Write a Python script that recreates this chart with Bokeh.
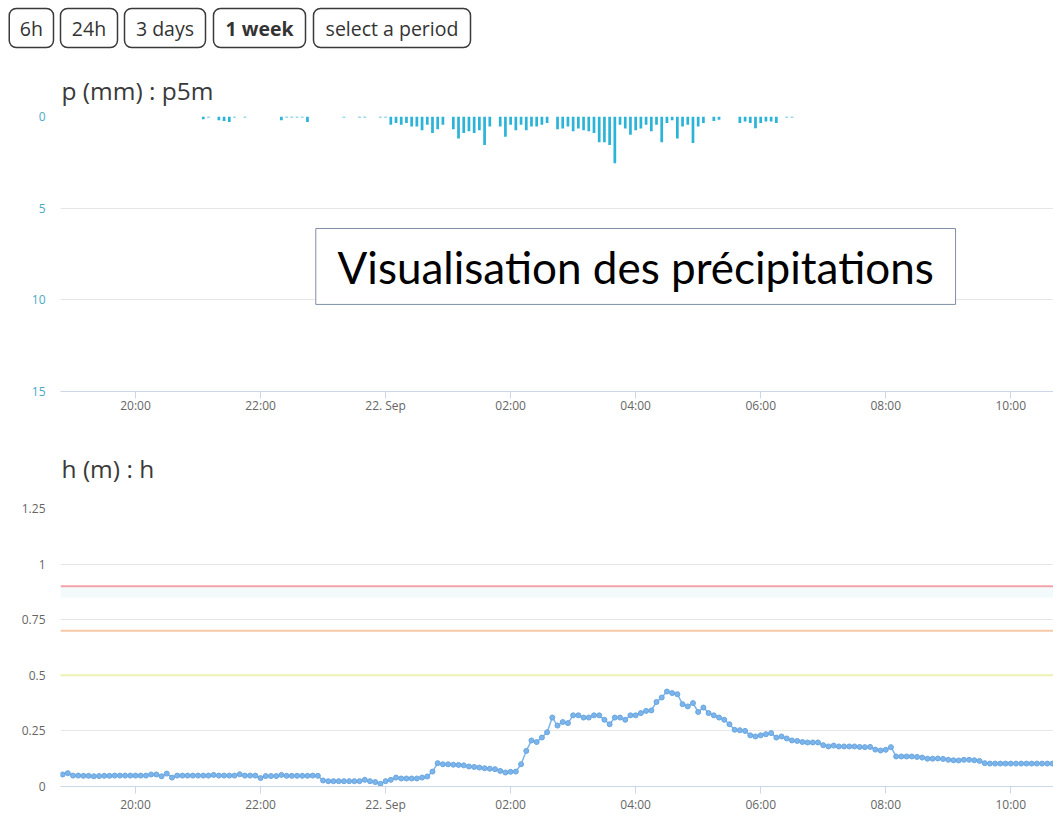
import pandas as pd
from bokeh.plotting import figure
from bokeh.models import (Range1d, FixedTicker, CustomJSTickFormatter, Span,
                          BoxAnnotation, Label, ColumnDataSource)
from bokeh.layouts import column, row
from bokeh.embed import file_html
from bokeh.resources import INLINE
from bokeh.core.properties import value

# ---------------- data ----------------
buttons = ["6h", "24h", "3 days", "1 week", "select a period"]
active_button = "1 week"

p_title = "p (mm) : p5m"
h_title = "h (m) : h"
overlay_text = "Visualisation des précipitations"

p_start = "2023-09-21 21:00"          # 5-minute precipitation, mm
p5m_mm = [
    0, 0.15, 0.05, 0, 0.2, 0.25, 0.3, 0.05, 0, 0.05, 0, 0,            # 21h
    0, 0, 0, 0, 0.2, 0.05, 0.05, 0.05, 0.05, 0.3, 0, 0,               # 22h
    0, 0, 0, 0, 0.05, 0, 0, 0.05, 0.05, 0, 0, 0.05,                   # 23h
    0.05, 0.45, 0.35, 0.45, 0.35, 0.55, 0.55, 0.75, 0.45, 0.9, 0.7, 0.45,  # 00h
    0, 0.7, 1.2, 0.9, 0.8, 0.9, 0.75, 1.55, 0.55, 0, 0.55, 1.1,       # 01h
    0.45, 0.75, 0.45, 0.75, 0.55, 0.55, 0.45, 0.35, 0, 0.7, 0.65, 0.55,  # 02h
    0.8, 0.65, 0.75, 0.8, 0.9, 1.4, 1.4, 1.55, 2.55, 0.45, 0.65, 1.0,  # 03h
    0.75, 0.65, 0.45, 0.8, 0.45, 1.4, 0.35, 0.2, 1.2, 0.55, 0.45, 1.45,  # 04h
    0.55, 0.35, 0, 0.25, 0.18, 0, 0, 0, 0.36, 0.27, 0.36, 0.64,       # 05h
    0.36, 0.27, 0.27, 0.36, 0, 0.05, 0.05,                            # 06h
]

h_start = "2023-09-21 18:50"          # water level every 5 minutes, m
h_m = [
    0.054, 0.060,
    0.049, 0.049, 0.048, 0.048, 0.046, 0.047, 0.048, 0.048, 0.049, 0.049, 0.049, 0.049,  # 19h
    0.049, 0.049, 0.049, 0.054, 0.054, 0.046, 0.058, 0.040, 0.049, 0.049, 0.049, 0.049,  # 20h
    0.049, 0.049, 0.049, 0.052, 0.049, 0.049, 0.049, 0.049, 0.055, 0.049, 0.049, 0.049,  # 21h
    0.038, 0.047, 0.047, 0.047, 0.052, 0.048, 0.048, 0.048, 0.048, 0.048, 0.049, 0.048,  # 22h
    0.027, 0.024, 0.024, 0.024, 0.024, 0.024, 0.024, 0.024, 0.030, 0.024, 0.020, 0.012,  # 23h
    0.024, 0.030, 0.040, 0.036, 0.036, 0.036, 0.036, 0.040, 0.045, 0.067, 0.105, 0.100,  # 00h
    0.100, 0.098, 0.097, 0.095, 0.090, 0.088, 0.085, 0.082, 0.080, 0.078, 0.070, 0.063,  # 01h
    0.066, 0.067, 0.100, 0.160, 0.207, 0.200, 0.220, 0.244, 0.310, 0.274, 0.290, 0.285,  # 02h
    0.320, 0.320, 0.310, 0.310, 0.320, 0.320, 0.300, 0.280, 0.310, 0.310, 0.300, 0.320,  # 03h
    0.320, 0.330, 0.340, 0.342, 0.380, 0.400, 0.427, 0.420, 0.415, 0.370, 0.360, 0.375,  # 04h
    0.335, 0.355, 0.330, 0.320, 0.310, 0.300, 0.280, 0.255, 0.253, 0.250, 0.230, 0.225,  # 05h
    0.230, 0.235, 0.240, 0.220, 0.225, 0.216, 0.207, 0.205, 0.200, 0.198, 0.198, 0.198,  # 06h
    0.186, 0.180, 0.184, 0.180, 0.180, 0.180, 0.180, 0.178, 0.177, 0.178, 0.166, 0.162,  # 07h
    0.165, 0.177, 0.135, 0.135, 0.135, 0.135, 0.133, 0.130, 0.125, 0.125, 0.126, 0.124,  # 08h
    0.120, 0.118, 0.117, 0.120, 0.120, 0.118, 0.115, 0.105, 0.103, 0.103, 0.103, 0.103,  # 09h
    0.103, 0.103, 0.103, 0.103, 0.103, 0.103, 0.103, 0.103, 0.103,                       # 10h
]

x_ticks = ["2023-09-21 20:00", "2023-09-21 22:00", "2023-09-22 00:00",
           "2023-09-22 02:00", "2023-09-22 04:00", "2023-09-22 06:00",
           "2023-09-22 08:00", "2023-09-22 10:00"]
p_ticks = [0, 5, 10, 15]
h_ticks = [0, 0.25, 0.5, 0.75, 1, 1.25]

thresholds = [0.9, 0.7, 0.5]
threshold_colors = ["#f2a2a8", "#f6c9a6", "#eef0b4"]

# ---------------- helpers ----------------
def ms(t):
    return pd.Timestamp(t).value / 1e6

p_time = pd.date_range(p_start, periods=len(p5m_mm), freq="5min")
h_time = pd.date_range(h_start, periods=len(h_m), freq="5min")
src_p = ColumnDataSource(dict(t=p_time, v=p5m_mm))
src_h = ColumnDataSource(dict(t=h_time, v=h_m))

x_start, x_end = ms("2023-09-21 18:48"), ms("2023-09-22 10:41")
tick_ms = [ms(t) for t in x_ticks]

FONT = "Open Sans"
W = 1053

xfmt = CustomJSTickFormatter(code="""
const d = new Date(tick);
const hh = d.getUTCHours(), mm = d.getUTCMinutes();
const months = ["Jan","Feb","Mar","Apr","May","Jun","Jul","Aug","Sep","Oct","Nov","Dec"];
if (hh === 0 && mm === 0) { return d.getUTCDate() + ". " + months[d.getUTCMonth()]; }
return (hh < 10 ? "0" : "") + hh + ":" + (mm < 10 ? "0" : "") + mm;
""")
yfmt = CustomJSTickFormatter(code="return String(Math.round(tick*100)/100);")


def style(p, yticks, ycolor, xstandoff, title_standoff):
    p.outline_line_color = None
    p.xgrid.grid_line_color = None
    p.ygrid.ticker = FixedTicker(ticks=yticks)
    p.ygrid.grid_line_color = "#e6e6e6"
    ax = p.xaxis[0]
    ax.ticker = FixedTicker(ticks=tick_ms)
    ax.formatter = xfmt
    ax.axis_line_color = "#ccd6eb"
    ax.major_tick_line_color = "#ccd6eb"
    ax.major_tick_out = 7
    ax.major_tick_in = 0
    ax.minor_tick_line_color = None
    ax.major_label_text_color = "#666666"
    ax.major_label_text_font = FONT
    ax.major_label_text_font_size = "12px"
    ax.major_label_standoff = xstandoff
    ay = p.yaxis[0]
    ay.ticker = FixedTicker(ticks=yticks)
    ay.formatter = yfmt
    ay.axis_line_color = None
    ay.major_tick_line_color = None
    ay.major_tick_out = 0
    ay.major_tick_in = 0
    ay.minor_tick_line_color = None
    ay.major_label_text_color = ycolor
    ay.major_label_text_font = FONT
    ay.major_label_text_font_size = "12px"
    ay.major_label_standoff = 15
    p.title.text_font = FONT
    p.title.text_font_size = "24.5px"
    p.title.text_font_style = "normal"
    p.title.text_color = "#3a3a3a"
    p.title.align = "left"
    p.title.offset = 1
    p.title.standoff = title_standoff


# ---------------- buttons row ----------------
btn_left = [8.75, 60, 124, 213, 313]
btn_right = [53, 117, 205, 305, 470]
pb = figure(width=W, height=54, x_range=Range1d(0, W), y_range=Range1d(54, 0),
            toolbar_location=None, output_backend="svg", min_border=0,
            x_axis_location=None, y_axis_location=None)
pb.grid.visible = False
pb.outline_line_color = None
pb.quad(left=btn_left, right=btn_right, top=[8] * 5, bottom=[47] * 5,
        fill_color="white", line_color="#3a3a3a", line_width=1.5, border_radius=7)
btn_src = ColumnDataSource(dict(
    x=[(l + r) / 2 for l, r in zip(btn_left, btn_right)],
    y=[27.5] * 5,
    t=buttons,
    s=["bold" if b == active_button else "normal" for b in buttons]))
pb.text(x="x", y="y", text="t", source=btn_src, text_align="center",
        text_baseline="middle", text_font=value(FONT), text_font_size="19.5px",
        text_font_style="s", text_color="#333333")

# ---------------- precipitation chart ----------------
p1 = figure(width=W, height=371, x_range=Range1d(x_start, x_end),
            y_range=Range1d(15, 0), x_axis_type="datetime",
            toolbar_location=None, output_backend="svg", title=p_title,
            min_border_left=60, min_border_right=0, min_border_top=62,
            min_border_bottom=34)
style(p1, p_ticks, "#4aa9c4", -2, 20)
p1.vbar(x="t", top="v", bottom=0, width=2.6 * 60000, source=src_p,
        fill_color="#2cb3d8", line_color=None)

box = BoxAnnotation(left=ms("2023-09-21 22:53"), right=ms("2023-09-22 09:07"),
                    top=6.11, bottom=10.25, fill_color="white", fill_alpha=1,
                    line_color="#7f8ea6", line_width=1, line_alpha=1)
p1.add_layout(box)
p1.add_layout(Label(x=ms("2023-09-22 04:00"), y=8.2, text=overlay_text,
                    text_align="center", text_baseline="middle",
                    text_font="Lato", text_font_size="44px", text_color="black"))

# ---------------- water level chart ----------------
p2 = figure(width=W, height=400, x_range=p1.x_range,
            y_range=Range1d(0, 1.25), x_axis_type="datetime",
            toolbar_location=None, output_backend="svg", title=h_title,
            min_border_left=60, min_border_right=0, min_border_top=83,
            min_border_bottom=39)
style(p2, h_ticks, "#666666", 2, 47)
p2.add_layout(BoxAnnotation(bottom=0.85, top=0.9, fill_color="#f3fafc",
                            fill_alpha=1, line_color=None, level="underlay"))
for lvl, col in zip(thresholds, threshold_colors):
    p2.add_layout(Span(location=lvl, dimension="width", line_color=col, line_width=2))
p2.line(x="t", y="v", source=src_h, line_color="#7cb5ec", line_width=1.5)
p2.scatter(x="t", y="v", source=src_h, size=5, fill_color="#7cb5ec",
           line_color="#6aa6de", line_width=1)

layout = column(row(pb), p1, p2, spacing=0)
open("out.html", "w").write(file_html(layout, INLINE))
